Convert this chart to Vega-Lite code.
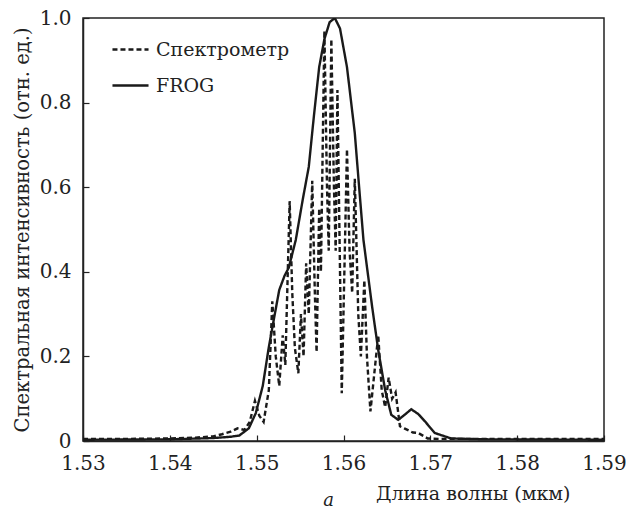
{
  "$schema": "https://vega.github.io/schema/vega-lite/v6.json",
  "width": 521,
  "height": 423,
  "autosize": {"type": "none"},
  "padding": {"left": 83, "top": 18, "right": 30, "bottom": 72},
  "background": "white",
  "config": {
    "font": "DejaVu Serif",
    "view": {"stroke": "#222", "strokeWidth": 1.5},
    "axis": {"grid": false, "domainColor": "#222", "domainWidth": 1.5, "tickColor": "#222", "labelColor": "#222", "titleColor": "#222", "labelFont": "DejaVu Serif", "titleFont": "DejaVu Serif", "titleFontWeight": "normal"}
  },
  "title": {"text": "a", "orient": "bottom", "fontStyle": "italic", "fontSize": 18, "font": "DejaVu Serif", "fontWeight": "normal", "color": "#222", "dx": -15, "offset": -11},
  "data": {"values": [
    {"lam": 1.530, "I": 0.003, "s": "FROG"},
    {"lam": 1.540, "I": 0.004, "s": "FROG"},
    {"lam": 1.545, "I": 0.007, "s": "FROG"},
    {"lam": 1.547, "I": 0.010, "s": "FROG"},
    {"lam": 1.548, "I": 0.013, "s": "FROG"},
    {"lam": 1.5491, "I": 0.030, "s": "FROG"},
    {"lam": 1.5499, "I": 0.066, "s": "FROG"},
    {"lam": 1.5507, "I": 0.13, "s": "FROG"},
    {"lam": 1.5514, "I": 0.222, "s": "FROG"},
    {"lam": 1.5520, "I": 0.29, "s": "FROG"},
    {"lam": 1.5526, "I": 0.357, "s": "FROG"},
    {"lam": 1.5532, "I": 0.39, "s": "FROG"},
    {"lam": 1.5537, "I": 0.41, "s": "FROG"},
    {"lam": 1.5545, "I": 0.475, "s": "FROG"},
    {"lam": 1.5553, "I": 0.57, "s": "FROG"},
    {"lam": 1.5560, "I": 0.648, "s": "FROG"},
    {"lam": 1.5566, "I": 0.77, "s": "FROG"},
    {"lam": 1.5572, "I": 0.884, "s": "FROG"},
    {"lam": 1.5578, "I": 0.95, "s": "FROG"},
    {"lam": 1.5584, "I": 0.99, "s": "FROG"},
    {"lam": 1.5590, "I": 1.0, "s": "FROG"},
    {"lam": 1.5596, "I": 0.975, "s": "FROG"},
    {"lam": 1.5604, "I": 0.884, "s": "FROG"},
    {"lam": 1.5613, "I": 0.728, "s": "FROG"},
    {"lam": 1.5618, "I": 0.60, "s": "FROG"},
    {"lam": 1.5623, "I": 0.475, "s": "FROG"},
    {"lam": 1.5633, "I": 0.317, "s": "FROG"},
    {"lam": 1.5640, "I": 0.215, "s": "FROG"},
    {"lam": 1.5648, "I": 0.12, "s": "FROG"},
    {"lam": 1.5655, "I": 0.062, "s": "FROG"},
    {"lam": 1.5663, "I": 0.050, "s": "FROG"},
    {"lam": 1.5671, "I": 0.063, "s": "FROG"},
    {"lam": 1.5678, "I": 0.075, "s": "FROG"},
    {"lam": 1.5686, "I": 0.064, "s": "FROG"},
    {"lam": 1.5694, "I": 0.046, "s": "FROG"},
    {"lam": 1.5705, "I": 0.019, "s": "FROG"},
    {"lam": 1.5724, "I": 0.006, "s": "FROG"},
    {"lam": 1.5760, "I": 0.004, "s": "FROG"},
    {"lam": 1.5900, "I": 0.003, "s": "FROG"},

    {"lam": 1.5300, "I": 0.005, "s": "Спектрометр"},
    {"lam": 1.5350, "I": 0.005, "s": "Спектрометр"},
    {"lam": 1.5400, "I": 0.006, "s": "Спектрометр"},
    {"lam": 1.5430, "I": 0.008, "s": "Спектрометр"},
    {"lam": 1.5450, "I": 0.011, "s": "Спектрометр"},
    {"lam": 1.5460, "I": 0.016, "s": "Спектрометр"},
    {"lam": 1.5470, "I": 0.022, "s": "Спектрометр"},
    {"lam": 1.5478, "I": 0.030, "s": "Спектрометр"},
    {"lam": 1.5486, "I": 0.026, "s": "Спектрометр"},
    {"lam": 1.5492, "I": 0.045, "s": "Спектрометр"},
    {"lam": 1.5498, "I": 0.095, "s": "Спектрометр"},
    {"lam": 1.5503, "I": 0.060, "s": "Спектрометр"},
    {"lam": 1.5508, "I": 0.045, "s": "Спектрометр"},
    {"lam": 1.5514, "I": 0.12, "s": "Спектрометр"},
    {"lam": 1.5518, "I": 0.33, "s": "Спектрометр"},
    {"lam": 1.5522, "I": 0.20, "s": "Спектрометр"},
    {"lam": 1.5526, "I": 0.13, "s": "Спектрометр"},
    {"lam": 1.5530, "I": 0.25, "s": "Спектрометр"},
    {"lam": 1.5533, "I": 0.18, "s": "Спектрометр"},
    {"lam": 1.5538, "I": 0.567, "s": "Спектрометр"},
    {"lam": 1.5541, "I": 0.35, "s": "Спектрометр"},
    {"lam": 1.5544, "I": 0.22, "s": "Спектрометр"},
    {"lam": 1.5548, "I": 0.16, "s": "Спектрометр"},
    {"lam": 1.5551, "I": 0.30, "s": "Спектрометр"},
    {"lam": 1.5554, "I": 0.20, "s": "Спектрометр"},
    {"lam": 1.5557, "I": 0.42, "s": "Спектрометр"},
    {"lam": 1.5560, "I": 0.30, "s": "Спектрометр"},
    {"lam": 1.5564, "I": 0.615, "s": "Спектрометр"},
    {"lam": 1.5567, "I": 0.35, "s": "Спектрометр"},
    {"lam": 1.5569, "I": 0.21, "s": "Спектрометр"},
    {"lam": 1.5572, "I": 0.55, "s": "Спектрометр"},
    {"lam": 1.5574, "I": 0.40, "s": "Спектрометр"},
    {"lam": 1.5578, "I": 0.97, "s": "Спектрометр"},
    {"lam": 1.5581, "I": 0.60, "s": "Спектрометр"},
    {"lam": 1.5583, "I": 0.45, "s": "Спектрометр"},
    {"lam": 1.5586, "I": 0.95, "s": "Спектрометр"},
    {"lam": 1.5589, "I": 0.60, "s": "Спектрометр"},
    {"lam": 1.5591, "I": 0.45, "s": "Спектрометр"},
    {"lam": 1.5593, "I": 0.83, "s": "Спектрометр"},
    {"lam": 1.5596, "I": 0.40, "s": "Спектрометр"},
    {"lam": 1.5598, "I": 0.113, "s": "Спектрометр"},
    {"lam": 1.5601, "I": 0.40, "s": "Спектрометр"},
    {"lam": 1.5604, "I": 0.69, "s": "Спектрометр"},
    {"lam": 1.5607, "I": 0.45, "s": "Спектрометр"},
    {"lam": 1.5610, "I": 0.35, "s": "Спектрометр"},
    {"lam": 1.5613, "I": 0.62, "s": "Спектрометр"},
    {"lam": 1.5617, "I": 0.30, "s": "Спектрометр"},
    {"lam": 1.5620, "I": 0.20, "s": "Спектрометр"},
    {"lam": 1.5624, "I": 0.38, "s": "Спектрометр"},
    {"lam": 1.5627, "I": 0.20, "s": "Спектрометр"},
    {"lam": 1.5631, "I": 0.07, "s": "Спектрометр"},
    {"lam": 1.5635, "I": 0.15, "s": "Спектрометр"},
    {"lam": 1.5640, "I": 0.25, "s": "Спектрометр"},
    {"lam": 1.5644, "I": 0.12, "s": "Спектрометр"},
    {"lam": 1.5648, "I": 0.08, "s": "Спектрометр"},
    {"lam": 1.5652, "I": 0.15, "s": "Спектрометр"},
    {"lam": 1.5656, "I": 0.10, "s": "Спектрометр"},
    {"lam": 1.5660, "I": 0.115, "s": "Спектрометр"},
    {"lam": 1.5665, "I": 0.035, "s": "Спектрометр"},
    {"lam": 1.5670, "I": 0.030, "s": "Спектрометр"},
    {"lam": 1.5675, "I": 0.025, "s": "Спектрометр"},
    {"lam": 1.5680, "I": 0.020, "s": "Спектрометр"},
    {"lam": 1.5686, "I": 0.019, "s": "Спектрометр"},
    {"lam": 1.5697, "I": 0.006, "s": "Спектрометр"},
    {"lam": 1.5710, "I": 0.005, "s": "Спектрометр"},
    {"lam": 1.5800, "I": 0.005, "s": "Спектрометр"},
    {"lam": 1.5900, "I": 0.005, "s": "Спектрометр"}
  ]},
  "mark": {"type": "line", "color": "#1a1a1a", "strokeWidth": 2.4, "clip": true},
  "encoding": {
    "x": {"field": "lam", "type": "quantitative", "scale": {"domain": [1.53, 1.59], "nice": false, "zero": false},
      "axis": {"values": [1.53, 1.54, 1.55, 1.56, 1.57, 1.58, 1.59], "format": ".2f", "labelFontSize": 20, "tickSize": -6, "tickWidth": 1.2, "labelPadding": 18, "labelFlush": false,
        "title": "Длина волны (мкм)", "titleFontSize": 19, "titleAnchor": null, "titleAlign": "right", "titleX": 487, "titleY": 58, "titleBaseline": "alphabetic"}},
    "y": {"field": "I", "type": "quantitative", "scale": {"domain": [0, 1], "nice": false},
      "axis": {"values": [0, 0.2, 0.4, 0.6, 0.8, 1.0], "labelExpr": "datum.value == 0 ? '0' : format(datum.value, '.1f')", "labelFontSize": 20, "tickSize": -6, "tickWidth": 1.2, "labelPadding": 18, "labelFlush": false,
        "title": "Спектральная интенсивность (отн. ед.)", "titleFontSize": 19.5, "titlePadding": 7}},
    "strokeDash": {"field": "s", "type": "nominal",
      "scale": {"domain": ["Спектрометр", "FROG"], "range": [[5, 3], [1, 0]]},
      "legend": {"title": null, "orient": "none", "legendX": 28, "legendY": 12, "symbolType": "stroke", "symbolSize": 1300, "symbolStrokeWidth": 2.4, "symbolStrokeColor": "#1a1a1a", "labelFontSize": 19, "labelFont": "DejaVu Serif", "labelColor": "#222", "rowPadding": 6, "labelOffset": 6}},
    "order": {"field": "lam", "type": "quantitative"}
  }
}
